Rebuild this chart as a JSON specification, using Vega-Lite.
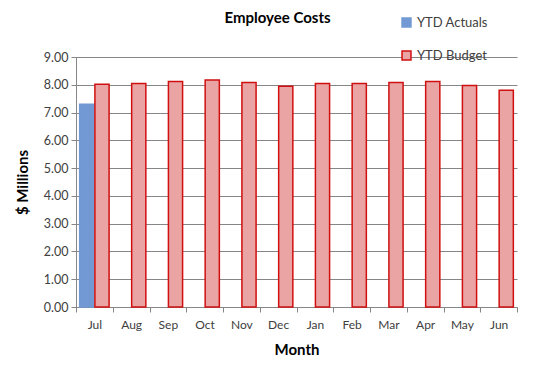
{
  "$schema": "https://vega.github.io/schema/vega-lite/v6.json",
  "width": 441,
  "height": 250,
  "autosize": "none",
  "padding": {"left": 76, "top": 57, "right": 23, "bottom": 64},
  "background": "white",
  "title": {"text": "Employee Costs", "font": "Lato", "fontSize": 15, "fontWeight": "bold", "color": "#000000", "anchor": "middle", "frame": "group", "dx": -19, "offset": -10},
  "data": {"values": [
    {"month": "Jul", "series": "YTD Actuals", "value": 7.30},
    {"month": "Jul", "series": "YTD Budget", "value": 8.02},
    {"month": "Aug", "series": "YTD Budget", "value": 8.05},
    {"month": "Sep", "series": "YTD Budget", "value": 8.12},
    {"month": "Oct", "series": "YTD Budget", "value": 8.17},
    {"month": "Nov", "series": "YTD Budget", "value": 8.08},
    {"month": "Dec", "series": "YTD Budget", "value": 7.95},
    {"month": "Jan", "series": "YTD Budget", "value": 8.05},
    {"month": "Feb", "series": "YTD Budget", "value": 8.05},
    {"month": "Mar", "series": "YTD Budget", "value": 8.08},
    {"month": "Apr", "series": "YTD Budget", "value": 8.12},
    {"month": "May", "series": "YTD Budget", "value": 7.97},
    {"month": "Jun", "series": "YTD Budget", "value": 7.80}
  ]},
  "mark": {"type": "bar", "strokeWidth": 1.5},
  "encoding": {
    "x": {"field": "month", "type": "nominal", "sort": ["Jul","Aug","Sep","Oct","Nov","Dec","Jan","Feb","Mar","Apr","May","Jun"],
      "scale": {"paddingInner": 0, "paddingOuter": 0},
      "axis": {"title": "Month", "titleFont": "Lato", "titleFontSize": 15, "titleFontWeight": "bold", "titleColor": "#000000", "titlePadding": 12,
        "labelAngle": 0, "labelFont": "Lato", "labelFontSize": 12, "labelColor": "#404040", "labelPadding": 7,
        "tickBand": "extent", "tickSize": 5, "tickColor": "#868686", "domainColor": "#868686", "grid": false}},
    "xOffset": {"field": "series", "type": "nominal", "scale": {"domain": ["YTD Actuals", "YTD Budget"], "paddingInner": 0.07, "paddingOuter": 0.24}},
    "y": {"field": "value", "type": "quantitative",
      "scale": {"domain": [0, 9], "nice": false},
      "axis": {"title": "$ Millions", "titleFont": "Lato", "titleFontSize": 15, "titleFontWeight": "bold", "titleColor": "#000000", "titlePadding": 13,
        "format": ".2f", "values": [0,1,2,3,4,5,6,7,8,9], "labelFont": "Lato", "labelFontSize": 12.5, "labelColor": "#404040", "labelPadding": 3,
        "tickSize": 5, "tickColor": "#868686", "domainColor": "#868686", "gridColor": "#868686", "gridWidth": 1}},
    "fill": {"field": "series", "type": "nominal",
      "scale": {"domain": ["YTD Actuals", "YTD Budget"], "range": ["#7299D4", "#EBA4A4"]},
      "legend": {"title": null, "orient": "none", "legendX": 324, "legendY": -41, "symbolType": "square", "symbolSize": 80, "symbolStrokeWidth": 1.5,
        "labelFont": "Lato", "labelFontSize": 13, "labelColor": "#404040", "rowPadding": 18}},
    "stroke": {"field": "series", "type": "nominal",
      "scale": {"domain": ["YTD Actuals", "YTD Budget"], "range": ["#7299D4", "#D01010"]}, "legend": null}
  },
  "config": {"view": {"stroke": null}}
}
